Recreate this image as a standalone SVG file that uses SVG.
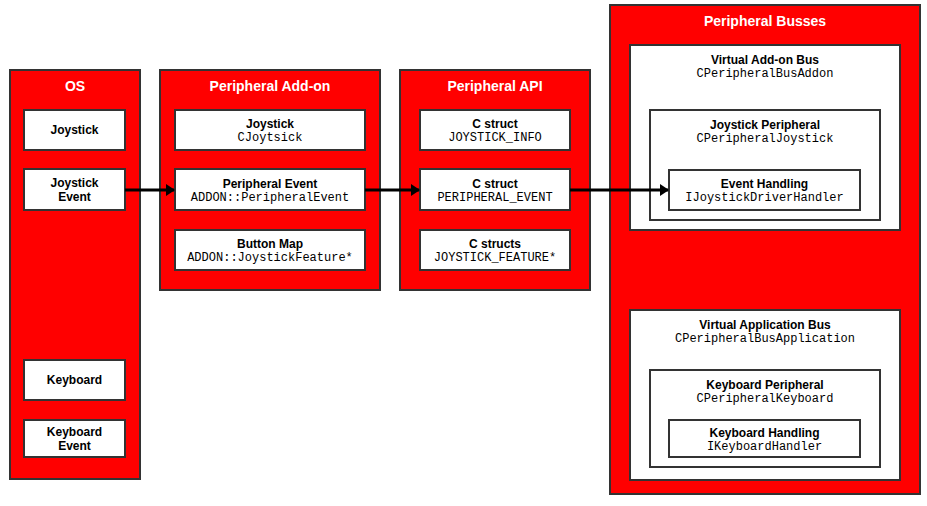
<svg xmlns="http://www.w3.org/2000/svg" width="927" height="506" viewBox="0 0 927 506">
<defs>
<style>
.cont{fill:#ff0000;stroke:#333;stroke-width:2}
.box{fill:#fff;stroke:#333;stroke-width:2}
.title{font-family:"Liberation Sans",Arial,sans-serif;font-weight:bold;font-size:14px;fill:#fff;text-anchor:middle}
.b{font-family:"Liberation Sans",Arial,sans-serif;font-weight:bold;font-size:12px;fill:#000;text-anchor:middle}
.m{font-family:"Liberation Mono","Courier New",monospace;font-size:12px;fill:#000;text-anchor:middle}
.conn{stroke:#000;stroke-width:3;fill:none;marker-end:url(#ah)}
</style>
<marker id="ah" markerWidth="9" markerHeight="12" refX="8" refY="6" orient="auto" markerUnits="userSpaceOnUse" viewBox="0 0 9 12">
<path d="M0,0 L9,6 L0,12 z" fill="#000"/>
</marker>
</defs>

<g id="os">
<rect class="cont" x="10" y="70" width="130" height="409"/>
<text class="title" x="75" y="91">OS</text>
</g>
<g id="os-joystick"><rect class="box" x="24" y="110" width="101" height="40"/><text class="b" x="74.5" y="134">Joystick</text></g>
<g id="os-joystick-event"><rect class="box" x="24" y="169" width="101" height="41"/><text class="b" x="74.5" y="187">Joystick</text><text class="b" x="74.5" y="201">Event</text></g>
<g id="os-keyboard"><rect class="box" x="24" y="360" width="101" height="40"/><text class="b" x="74.5" y="384">Keyboard</text></g>
<g id="os-keyboard-event"><rect class="box" x="24" y="420" width="101" height="37"/><text class="b" x="74.5" y="436">Keyboard</text><text class="b" x="74.5" y="450">Event</text></g>

<g id="addon">
<rect class="cont" x="160" y="70" width="220" height="220"/>
<text class="title" x="270" y="91">Peripheral Add-on</text>
</g>
<g id="addon-joystick"><rect class="box" x="175" y="110" width="190" height="40"/><text class="b" x="270" y="128">Joystick</text><text class="m" x="270" y="141">CJoytsick</text></g>
<g id="addon-event"><rect class="box" x="175" y="169" width="190" height="41"/><text class="b" x="270" y="188">Peripheral Event</text><text class="m" x="270" y="201">ADDON::PeripheralEvent</text></g>
<g id="addon-buttonmap"><rect class="box" x="175" y="230" width="190" height="40"/><text class="b" x="270" y="248">Button Map</text><text class="m" x="270" y="261">ADDON::JoystickFeature*</text></g>

<g id="api">
<rect class="cont" x="400" y="70" width="190" height="220"/>
<text class="title" x="495" y="91">Peripheral API</text>
</g>
<g id="api-info"><rect class="box" x="420" y="110" width="150" height="40"/><text class="b" x="495" y="128">C struct</text><text class="m" x="495" y="141">JOYSTICK_INFO</text></g>
<g id="api-event"><rect class="box" x="420" y="169" width="150" height="41"/><text class="b" x="495" y="188">C struct</text><text class="m" x="495" y="201">PERIPHERAL_EVENT</text></g>
<g id="api-feature"><rect class="box" x="420" y="230" width="150" height="40"/><text class="b" x="495" y="248">C structs</text><text class="m" x="495" y="261">JOYSTICK_FEATURE*</text></g>

<g id="busses">
<rect class="cont" x="610" y="5" width="310" height="489"/>
<text class="title" x="765" y="26">Peripheral Busses</text>
</g>
<g id="addon-bus"><rect class="box" x="630" y="45" width="270" height="185"/><text class="b" x="765" y="64">Virtual Add-on Bus</text><text class="m" x="765" y="77">CPeripheralBusAddon</text></g>
<g id="joystick-peripheral"><rect class="box" x="650" y="110" width="230" height="110"/><text class="b" x="765" y="129">Joystick Peripheral</text><text class="m" x="765" y="142">CPeripheralJoystick</text></g>
<g id="event-handling"><rect class="box" x="669" y="170" width="191" height="40"/><text class="b" x="764.5" y="188">Event Handling</text><text class="m" x="764.5" y="201">IJoystickDriverHandler</text></g>
<g id="app-bus"><rect class="box" x="630" y="310" width="270" height="170"/><text class="b" x="765" y="329">Virtual Application Bus</text><text class="m" x="765" y="342">CPeripheralBusApplication</text></g>
<g id="keyboard-peripheral"><rect class="box" x="650" y="370" width="230" height="97"/><text class="b" x="765" y="389">Keyboard Peripheral</text><text class="m" x="765" y="402">CPeripheralKeyboard</text></g>
<g id="keyboard-handling"><rect class="box" x="669" y="420" width="191" height="37"/><text class="b" x="764.5" y="437">Keyboard Handling</text><text class="m" x="764.5" y="450">IKeyboardHandler</text></g>

<g id="connectors">
<line class="conn" x1="125" y1="190" x2="174" y2="190"/>
<line class="conn" x1="365" y1="190" x2="419" y2="190"/>
<line class="conn" x1="570" y1="190" x2="668" y2="190"/>
</g>
</svg>
